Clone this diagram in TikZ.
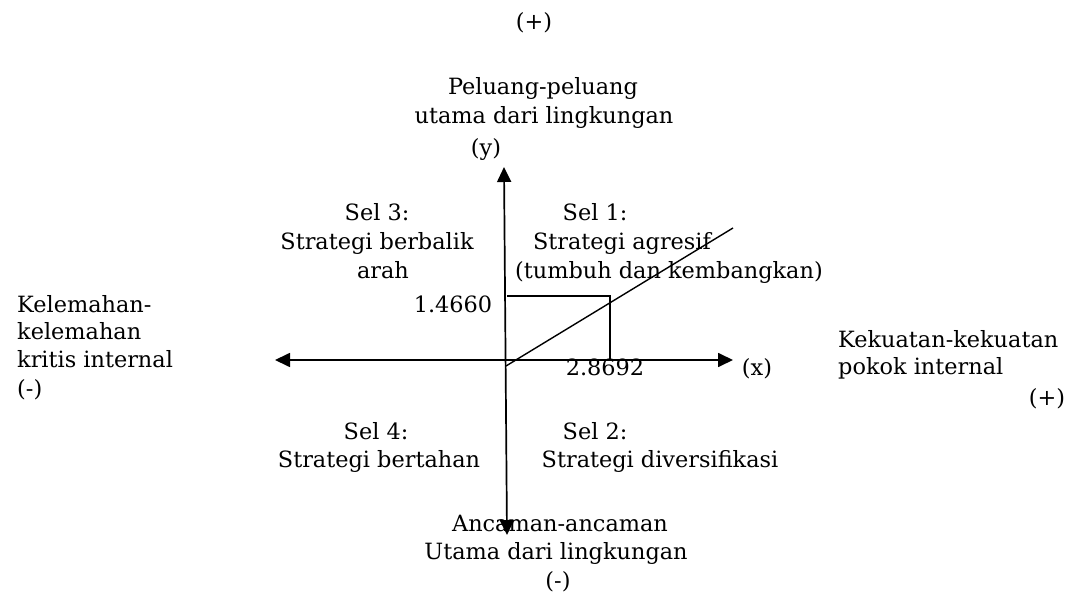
\documentclass[tikz,border=0pt]{standalone}
\usepackage{fontspec}
\setmainfont{DejaVu Serif}
\usetikzlibrary{arrows.meta}
\begin{document}
\begin{tikzpicture}[x=1pt,y=-1pt,
  lbl/.style={inner sep=0pt,anchor=base,font=\fontsize{22.4}{27.5}\selectfont},
  lbll/.style={lbl,anchor=base west},
  axis/.style={line width=1.7pt,{Triangle[length=15pt,width=14pt]}-{Triangle[length=15pt,width=14pt]}},
  thin/.style={line width=1.4pt}]
\useasboundingbox (0,0) rectangle (1068,601);
% axes
\coordinate (L) at (275,360);
\coordinate (R) at (733,360);
\coordinate (T) at (504,167);
\coordinate (B) at (507,535);
\draw[axis] (L) -- (R);
\draw[axis] (T) -- (B);
% diagonal and rectangle
\coordinate (D0) at (506,366);
\coordinate (D1) at (733,228);
\draw[thin] (D0) -- (D1);
\coordinate (P1) at (507,296);
\coordinate (P2) at (610,296);
\coordinate (P3) at (610,360);
\draw[thin] (P1) -- (P2) -- (P3);
% texts
\node[lbl] (tp) at (534,30) {(+)};
\node[lbl] (pl1) at (543,95) {Peluang-peluang};
\node[lbl] (pl2) at (544,124) {utama dari lingkungan};
\node[lbl] (ylab) at (486,156) {(y)};
\node[lbl] (s3a) at (377,221) {Sel 3:};
\node[lbl] (s3b) at (377,250) {Strategi berbalik};
\node[lbl] (s3c) at (383,279) {arah};
\node[lbl] (s1a) at (595,221) {Sel 1:};
\node[lbl] (s1b) at (622,250) {Strategi agresif};
\node[lbl] (s1c) at (669,279) {(tumbuh dan kembangkan)};
\node[lbl] (v1) at (453,313) {1.4660};
\node[lbl] (v2) at (605,376) {2.8692};
\node[lbll] (k1) at (17,313) {Kelemahan-};
\node[lbll] (k2) at (17,340) {kelemahan};
\node[lbll] (k3) at (17,368) {kritis internal};
\node[lbll] (km) at (17,396) {(-)};
\node[lbll] (u1) at (838,348) {Kekuatan-kekuatan};
\node[lbll] (u2) at (838,375) {pokok internal};
\node[lbl] (up) at (1047,405) {(+)};
\node[lbl] (xlab) at (757,376) {(x)};
\node[lbl] (s4a) at (376,439) {Sel 4:};
\node[lbl] (s4b) at (379,467) {Strategi bertahan};
\node[lbl] (s2a) at (595,439) {Sel 2:};
\node[lbl] (s2b) at (660,467) {Strategi diversifikasi};
\node[lbl] (a1) at (560,531) {Ancaman-ancaman};
\node[lbl] (a2) at (556,559) {Utama dari lingkungan};
\node[lbl] (a3) at (558,588) {(-)};
\end{tikzpicture}
\end{document}
